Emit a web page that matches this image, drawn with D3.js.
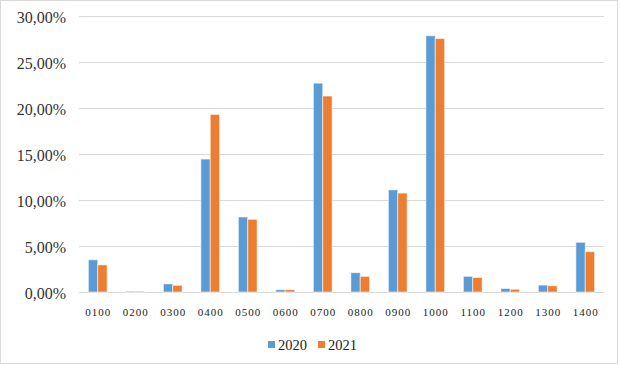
<!DOCTYPE html>
<html>
<head>
<meta charset="utf-8">
<script src="https://cdn.jsdelivr.net/npm/d3@7"></script>
<style>
  html, body { margin: 0; padding: 0; background: #fff; }
  svg { display: block; }
</style>
</head>
<body>
<svg id="chart" width="620" height="365"></svg>
<script>
const categories = ["0100","0200","0300","0400","0500","0600","0700","0800","0900","1000","1100","1200","1300","1400"];
const seriesNames = ["2020", "2021"];
const values2020 = [3.5, 0.08, 0.88, 14.45, 8.15, 0.25, 22.7, 2.1, 11.1, 27.85, 1.7, 0.38, 0.75, 5.4];
const values2021 = [2.95, 0.08, 0.72, 19.3, 7.9, 0.25, 21.3, 1.7, 10.75, 27.55, 1.58, 0.3, 0.68, 4.38];
const yTicks = [0, 5, 10, 15, 20, 25, 30];
const colors = ["#5B9BD5", "#ED7D31"];

const svg = d3.select("#chart");
const plotLeft = 79, plotRight = 604, plotTop = 16, plotBottom = 292;

// outer border
svg.append("rect").attr("x", 0.5).attr("y", 0.5).attr("width", 617).attr("height", 363)
  .attr("fill", "#fff").attr("stroke", "#d9d9d9").attr("stroke-width", 1);

const x = d3.scaleBand().domain(categories).range([plotLeft, plotRight]).paddingInner(0.5).paddingOuter(0.25);
const x1 = d3.scaleBand().domain(seriesNames).range([0, x.bandwidth()]);
const y = d3.scaleLinear().domain([0, 30]).range([plotBottom, plotTop]);

const fmt = v => d3.format(".2f")(v).replace(".", ",") + "%";

// gridlines
svg.append("g").selectAll("line").data(yTicks).join("line")
  .attr("x1", plotLeft).attr("x2", plotRight)
  .attr("y1", d => Math.round(y(d)) + 0.5).attr("y2", d => Math.round(y(d)) + 0.5)
  .attr("stroke", "#d9d9d9").attr("stroke-width", 1);

// y labels
svg.append("g").selectAll("text").data(yTicks).join("text")
  .attr("x", 66).attr("y", d => y(d) + 7)
  .attr("text-anchor", "end")
  .attr("font-family", "'Liberation Serif', 'Times New Roman', serif")
  .attr("font-size", 16).attr("fill", "#333")
  .text(fmt);

// bars
const data = categories.map((c, i) => ({ cat: c, vals: [values2020[i], values2021[i]] }));
const groups = svg.append("g").selectAll("g").data(data).join("g")
  .attr("transform", d => `translate(${x(d.cat)},0)`);
groups.selectAll("rect").data(d => d.vals.map((v, j) => ({ v, s: seriesNames[j], c: colors[j] }))).join("rect")
  .attr("x", d => x1(d.s))
  .attr("y", d => y(d.v))
  .attr("width", x1.bandwidth())
  .attr("height", d => plotBottom - y(d.v))
  .attr("fill", d => d.c)
  .attr("stroke", "rgba(255,255,255,0.55)").attr("stroke-width", 1);

// x labels
svg.append("g").selectAll("text").data(categories).join("text")
  .attr("x", d => x(d) + x.bandwidth() / 2 + 0.5).attr("y", 316)
  .attr("text-anchor", "middle")
  .attr("font-family", "'Liberation Serif', 'Times New Roman', serif")
  .attr("font-size", 11).attr("letter-spacing", 1).attr("fill", "#222")
  .text(d => d);

// legend
const legendX = [268, 318];
const lg = svg.append("g").selectAll("g").data(seriesNames).join("g")
  .attr("transform", (d, i) => `translate(${legendX[i]},0)`);
lg.append("rect").attr("x", 0).attr("y", 341).attr("width", 7).attr("height", 7)
  .attr("fill", (d, i) => colors[i]);
lg.append("text").attr("x", 10).attr("y", 350)
  .attr("font-family", "'Liberation Serif', 'Times New Roman', serif")
  .attr("font-size", 14.5).attr("fill", "#222")
  .text(d => d);
</script>
</body>
</html>
